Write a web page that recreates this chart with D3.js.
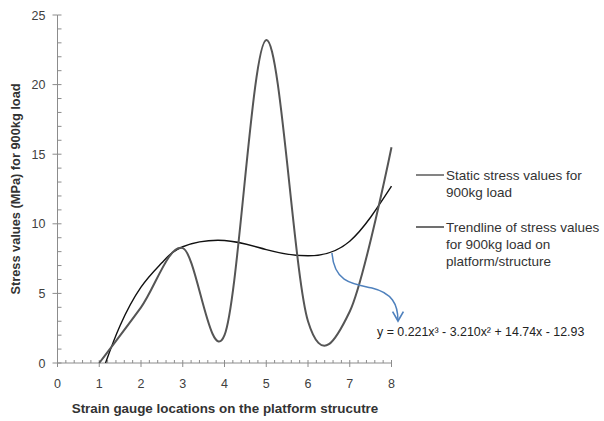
<!DOCTYPE html>
<html>
<head>
<script src="https://d3js.org/d3.v7.min.js"></script>
<style>
  body { margin: 0; background: #fff; }
  text { font-family: "Liberation Sans", Arial, sans-serif; }
</style>
</head>
<body>
<svg id="chart" width="604" height="421"></svg>
<script>
// strain gauge locations and measured stress (MPa)
const locations = [1, 2, 3, 4, 5, 6, 7, 8];
const stress = [0, 4.0, 8.25, 2.0, 23.2, 3.0, 3.7, 15.5];

// trendline
const trendX = [1.15, 1.5, 2, 2.5, 3, 4, 5, 6, 7, 8];
const trendY = [0, 2.7, 5.45, 7.2, 8.35, 8.8, 8.15, 7.7, 8.75, 12.7];

const xTicks = [0, 1, 2, 3, 4, 5, 6, 7, 8];
const yTicks = [0, 5, 10, 15, 20, 25];

const legendLabels = [
  ["Static stress values for", "900kg load"],
  ["Trendline of stress values", "for 900kg load on", "platform/structure"]
];
const equation = "y = 0.221x\u00B3 - 3.210x\u00B2 + 14.74x - 12.93";

const svg = d3.select("#chart");
const x = d3.scaleLinear().domain([0, 8]).range([57.5, 391.5]);
const y = d3.scaleLinear().domain([0, 25]).range([363, 15]);
const axisColor = "#8c8c8c";

// y axis
const yAxis = svg.append("g");
yAxis.append("line").attr("x1", x(0)).attr("x2", x(0)).attr("y1", y(0)).attr("y2", y(25))
  .attr("stroke", axisColor);
yAxis.selectAll(".minor").data(d3.range(0, 26, 1)).enter().append("line")
  .attr("x1", x(0)).attr("x2", x(0) + 4).attr("y1", d => y(d)).attr("y2", d => y(d))
  .attr("stroke", axisColor);
yAxis.selectAll(".major").data(yTicks).enter().append("line")
  .attr("x1", x(0) - 5).attr("x2", x(0)).attr("y1", d => y(d)).attr("y2", d => y(d))
  .attr("stroke", axisColor);
yAxis.selectAll("text").data(yTicks).enter().append("text")
  .attr("x", x(0) - 12).attr("y", d => y(d) + 4.5).attr("text-anchor", "end")
  .attr("font-size", "12.5px").attr("fill", "#404040").text(d => d);

// x axis
const xAxis = svg.append("g");
xAxis.append("line").attr("x1", x(0)).attr("x2", x(8)).attr("y1", y(0)).attr("y2", y(0))
  .attr("stroke", axisColor);
xAxis.selectAll(".minor").data(d3.range(0, 41).map(i => i * 0.2)).enter().append("line")
  .attr("x1", d => x(d)).attr("x2", d => x(d)).attr("y1", y(0)).attr("y2", y(0) - 3)
  .attr("stroke", axisColor);
xAxis.selectAll(".major").data(xTicks).enter().append("line")
  .attr("x1", d => x(d)).attr("x2", d => x(d)).attr("y1", y(0)).attr("y2", y(0) + 4)
  .attr("stroke", axisColor);
xAxis.selectAll("text").data(xTicks).enter().append("text")
  .attr("x", d => x(d)).attr("y", 388).attr("text-anchor", "middle")
  .attr("font-size", "12.5px").attr("fill", "#404040").text(d => d);

// axis titles
svg.append("text")
  .attr("transform", `translate(20, 189) rotate(-90)`)
  .attr("text-anchor", "middle").attr("font-size", "12.8px").attr("font-weight", "bold")
  .attr("fill", "#333").text("Stress values (MPa) for 900kg load");
svg.append("text")
  .attr("x", 225).attr("y", 413).attr("text-anchor", "middle")
  .attr("font-size", "13.4px").attr("font-weight", "bold")
  .attr("fill", "#333").text("Strain gauge locations on the platform strucutre");

// data curves
const line = d3.line().x(d => x(d[0])).y(d => y(d[1]));

svg.append("path")
  .datum(d3.zip(trendX, trendY))
  .attr("d", line.curve(d3.curveNatural))
  .attr("fill", "none").attr("stroke", "#111").attr("stroke-width", 1.4);

svg.append("path")
  .datum(d3.zip(locations, stress))
  .attr("d", line.curve(d3.curveCardinal.tension(0)))
  .attr("fill", "none").attr("stroke", "#555").attr("stroke-width", 2);

// legend
const legend = svg.append("g");
const legendY = [175, 227];
legendLabels.forEach((lines, i) => {
  legend.append("line").attr("x1", 416).attr("x2", 444)
    .attr("y1", legendY[i]).attr("y2", legendY[i])
    .attr("stroke", i === 0 ? "#333" : "#111").attr("stroke-width", 1.2);
  lines.forEach((t, j) => {
    legend.append("text").attr("x", 446).attr("y", legendY[i] + 4.5 + j * 17)
      .attr("font-size", "13.5px").attr("fill", "#333").text(t);
  });
});

// blue arrow pointing to the equation
svg.append("defs").append("marker")
  .attr("id", "arrow").attr("viewBox", "0 0 10 10").attr("refX", 8).attr("refY", 5)
  .attr("markerWidth", 9).attr("markerHeight", 9).attr("orient", "auto")
  .append("path").attr("d", "M1,1 L8,5 L1,9")
  .attr("fill", "none").attr("stroke", "#4f81bd").attr("stroke-width", 1.2);
svg.append("path")
  .attr("d", "M332,253 C334,282 352,284 372,288 C392,293 398,304 398,321")
  .attr("fill", "none").attr("stroke", "#4f81bd").attr("stroke-width", 1.5)
  .attr("marker-end", "url(#arrow)");

svg.append("text").attr("x", 377).attr("y", 336)
  .attr("font-size", "12.4px").attr("fill", "#222").text(equation);
</script>
</body>
</html>
